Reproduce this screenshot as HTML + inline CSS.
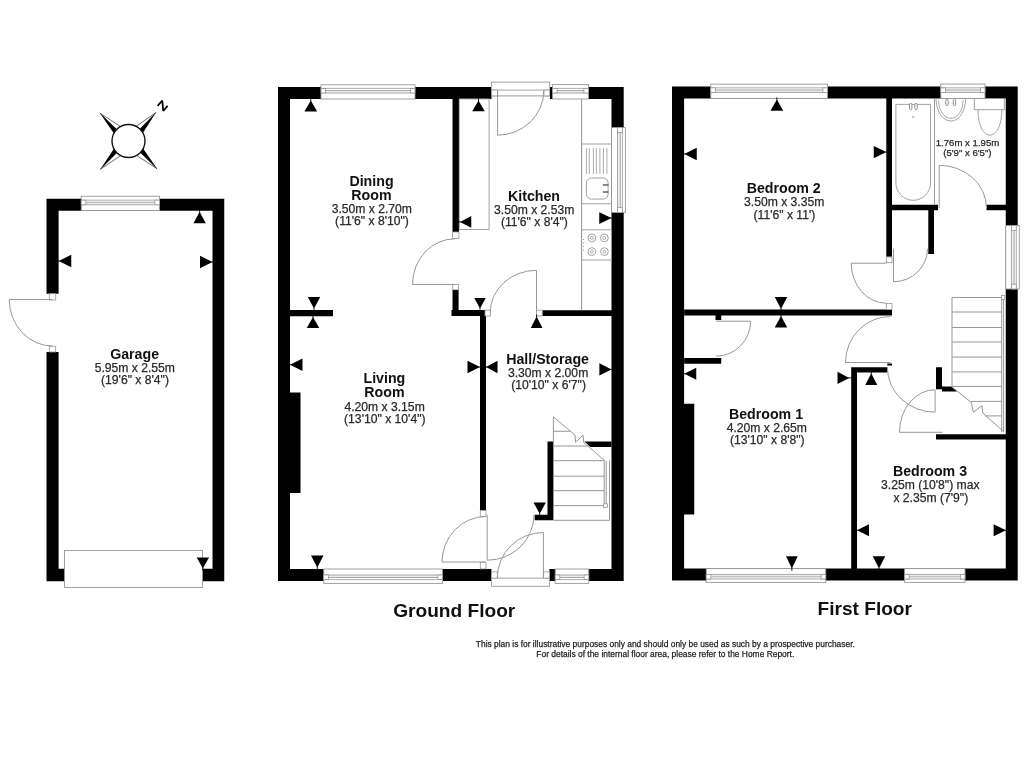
<!DOCTYPE html>
<html><head><meta charset="utf-8"><title>Floor Plan</title>
<style>
html,body{margin:0;padding:0;background:#fff;}
body{width:1024px;height:768px;overflow:hidden;}
svg{display:block;font-family:"Liberation Sans",sans-serif;will-change:transform;}
</style></head><body>
<svg width="1024" height="768" viewBox="0 0 1024 768">
<rect width="1024" height="768" fill="#fff"/>
<path d="M46.50 198.80H224.25V210.70H46.50ZM46.50 198.80H58.60V293.75H46.50ZM46.50 352.00H58.60V581.25H46.50ZM212.50 198.75H224.25V581.25H212.50ZM46.50 568.75H224.25V581.25H46.50ZM278.00 87.00H491.50V99.00H278.00ZM550.00 87.00H623.70V99.00H550.00ZM278.00 87.00H290.00V581.00H278.00ZM611.50 87.00H623.70V581.00H611.50ZM278.00 569.00H491.40V581.00H278.00ZM549.40 569.00H623.70V581.00H549.40ZM286.00 392.50H300.50V493.00H286.00ZM550.00 87.00H552.50V99.00H550.00ZM549.40 569.00H555.20V581.00H549.40ZM452.50 99.00H459.00V232.00H452.50ZM452.50 289.80H458.60V316.00H452.50ZM451.50 310.00H485.00V316.00H451.50ZM542.20 310.20H611.50V316.00H542.20ZM290.00 310.00H333.00V316.20H290.00ZM480.00 310.00H486.00V510.50H480.00ZM547.50 441.50H553.40V520.30H547.50ZM534.70 514.70H553.40V520.30H534.70ZM672.00 86.45H1017.70V98.40H672.00ZM672.00 86.45H684.10V580.40H672.00ZM1005.75 86.45H1017.70V580.40H1005.75ZM672.00 568.60H1017.70V580.40H672.00ZM680.00 403.75H694.25V514.50H680.00ZM886.30 98.50H892.00V256.80H886.30ZM892.00 204.80H938.00V210.20H892.00ZM986.50 204.80H1006.00V210.20H986.50ZM928.30 210.20H934.00V254.00H928.30ZM684.25 309.50H892.00V315.40H684.25ZM684.25 358.00H721.25V363.75H684.25ZM715.50 315.40H721.25V320.00H715.50ZM851.20 367.20H887.30V372.40H851.20ZM851.20 367.20H857.00V580.50H851.20ZM887.30 363.40H892.00V365.50H887.30ZM936.00 367.20H942.00V389.20H936.00ZM936.00 434.30H1006.00V439.60H936.00Z" fill="#000"/>
<polygon points="123.80,128.73 99.80,113.00 119.91,132.62" fill="#fff" stroke="#333" stroke-width="0.7"/>
<polygon points="116.02,136.51 99.80,113.00 119.91,132.62" fill="#000"/>
<polygon points="132.94,128.48 156.00,112.50 136.83,132.36" fill="#fff" stroke="#333" stroke-width="0.7"/>
<polygon points="140.72,136.25 156.00,112.50 136.83,132.36" fill="#000"/>
<polygon points="133.22,153.25 157.10,168.75 137.11,149.36" fill="#fff" stroke="#333" stroke-width="0.7"/>
<polygon points="141.00,145.47 157.10,168.75 137.11,149.36" fill="#000"/>
<polygon points="123.92,153.39 100.30,169.30 120.03,149.50" fill="#fff" stroke="#333" stroke-width="0.7"/>
<polygon points="116.14,145.61 100.30,169.30 120.03,149.50" fill="#000"/>
<circle cx="128.5" cy="141" r="16.5" fill="#fff" stroke="#111" stroke-width="1.4"/>
<polyline points="157.6,105.9 162.3,100.5 163.2,111.0 167.6,105.9" fill="none" stroke="#000" stroke-width="1.75" stroke-linejoin="bevel"/>
<rect x="81.25" y="196.25" width="78.25" height="14.25" fill="#fff" stroke="#979797" stroke-width="0.9"/>
<rect x="81.75" y="202.25" width="77.25" height="2.50" fill="#ececec"/>
<line x1="81.25" y1="200.15" x2="159.50" y2="200.15" stroke="#979797" stroke-width="0.8"/>
<line x1="81.25" y1="202.25" x2="159.50" y2="202.25" stroke="#979797" stroke-width="0.8"/>
<line x1="81.25" y1="204.75" x2="159.50" y2="204.75" stroke="#979797" stroke-width="0.8"/>
<rect x="81.25" y="200.15" width="4.60" height="4.60" fill="#fff" stroke="#979797" stroke-width="0.8"/>
<rect x="154.90" y="200.15" width="4.60" height="4.60" fill="#fff" stroke="#979797" stroke-width="0.8"/>
<rect x="64.50" y="550.50" width="138.00" height="37.00" fill="#fff" stroke="#979797" stroke-width="0.9"/>
<rect x="49.30" y="293.75" width="6.40" height="6.25" fill="#fff" stroke="#979797" stroke-width="0.8"/>
<rect x="49.30" y="346.25" width="6.40" height="5.75" fill="#fff" stroke="#979797" stroke-width="0.8"/>
<line x1="52.50" y1="299.50" x2="9.25" y2="299.50" stroke="#979797" stroke-width="1"/>
<path d="M9.25 299.50A43.25 46.50 0 0 0 52.50 346.00" fill="none" stroke="#979797" stroke-width="1"/>
<polygon points="193.50,223.25 205.75,223.25 199.62,211.75" fill="#000"/>
<line x1="199.62" y1="212.75" x2="199.62" y2="209.55" stroke="#000" stroke-width="0.9"/>
<polygon points="71.25,254.75 71.25,267.25 58.75,261.00" fill="#000"/>
<line x1="59.75" y1="261.00" x2="56.55" y2="261.00" stroke="#000" stroke-width="0.9"/>
<polygon points="200.00,255.75 200.00,268.25 212.50,262.00" fill="#000"/>
<line x1="211.50" y1="262.00" x2="214.70" y2="262.00" stroke="#000" stroke-width="0.9"/>
<polygon points="196.75,557.50 209.00,557.50 202.88,568.50" fill="#000"/>
<line x1="202.88" y1="567.50" x2="202.88" y2="570.70" stroke="#000" stroke-width="0.9"/>
<text x="134.60" y="359.40" font-size="14.2" font-weight="bold" fill="#111" text-anchor="middle">Garage</text>
<text x="134.80" y="372.30" font-size="12.15" stroke="#2a2a2a" stroke-width="0.25" fill="#2a2a2a" text-anchor="middle">5.95m x 2.55m</text>
<text x="135.00" y="384.00" font-size="12.15" stroke="#2a2a2a" stroke-width="0.25" fill="#2a2a2a" text-anchor="middle">(19'6&quot; x 8'4&quot;)</text>
<rect x="321.00" y="84.80" width="94.00" height="14.20" fill="#fff" stroke="#979797" stroke-width="0.9"/>
<rect x="321.50" y="90.50" width="93.00" height="2.50" fill="#ececec"/>
<line x1="321.00" y1="88.40" x2="415.00" y2="88.40" stroke="#979797" stroke-width="0.8"/>
<line x1="321.00" y1="90.50" x2="415.00" y2="90.50" stroke="#979797" stroke-width="0.8"/>
<line x1="321.00" y1="93.00" x2="415.00" y2="93.00" stroke="#979797" stroke-width="0.8"/>
<rect x="321.00" y="88.40" width="4.60" height="4.60" fill="#fff" stroke="#979797" stroke-width="0.8"/>
<rect x="410.40" y="88.40" width="4.60" height="4.60" fill="#fff" stroke="#979797" stroke-width="0.8"/>
<rect x="491.40" y="82.10" width="58.30" height="8.00" fill="#fff" stroke="#979797" stroke-width="0.9"/>
<line x1="491.40" y1="95.90" x2="549.70" y2="95.90" stroke="#979797" stroke-width="1"/>
<rect x="491.70" y="90.10" width="5.90" height="5.80" fill="#fff" stroke="#979797" stroke-width="0.8"/>
<rect x="543.90" y="90.10" width="5.80" height="5.80" fill="#fff" stroke="#979797" stroke-width="0.8"/>
<rect x="552.50" y="84.60" width="36.00" height="14.40" fill="#fff" stroke="#979797" stroke-width="0.9"/>
<rect x="553.00" y="90.50" width="35.00" height="2.50" fill="#ececec"/>
<line x1="552.50" y1="88.40" x2="588.50" y2="88.40" stroke="#979797" stroke-width="0.8"/>
<line x1="552.50" y1="90.50" x2="588.50" y2="90.50" stroke="#979797" stroke-width="0.8"/>
<line x1="552.50" y1="93.00" x2="588.50" y2="93.00" stroke="#979797" stroke-width="0.8"/>
<rect x="552.50" y="88.40" width="4.60" height="4.60" fill="#fff" stroke="#979797" stroke-width="0.8"/>
<rect x="583.90" y="88.40" width="4.60" height="4.60" fill="#fff" stroke="#979797" stroke-width="0.8"/>
<rect x="611.50" y="127.60" width="13.90" height="84.90" fill="#fff" stroke="#979797" stroke-width="0.9"/>
<rect x="617.50" y="128.10" width="2.80" height="83.90" fill="#ececec"/>
<line x1="622.40" y1="127.60" x2="622.40" y2="212.50" stroke="#979797" stroke-width="0.8"/>
<line x1="620.30" y1="127.60" x2="620.30" y2="212.50" stroke="#979797" stroke-width="0.8"/>
<line x1="617.50" y1="127.60" x2="617.50" y2="212.50" stroke="#979797" stroke-width="0.8"/>
<rect x="617.50" y="127.60" width="4.90" height="4.80" fill="#fff" stroke="#979797" stroke-width="0.8"/>
<rect x="617.50" y="207.70" width="4.90" height="4.80" fill="#fff" stroke="#979797" stroke-width="0.8"/>
<rect x="323.75" y="569.00" width="118.75" height="14.40" fill="#fff" stroke="#979797" stroke-width="0.9"/>
<rect x="324.25" y="575.00" width="117.75" height="2.50" fill="#ececec"/>
<line x1="323.75" y1="579.60" x2="442.50" y2="579.60" stroke="#979797" stroke-width="0.8"/>
<line x1="323.75" y1="577.50" x2="442.50" y2="577.50" stroke="#979797" stroke-width="0.8"/>
<line x1="323.75" y1="575.00" x2="442.50" y2="575.00" stroke="#979797" stroke-width="0.8"/>
<rect x="323.75" y="575.00" width="4.60" height="4.60" fill="#fff" stroke="#979797" stroke-width="0.8"/>
<rect x="437.90" y="575.00" width="4.60" height="4.60" fill="#fff" stroke="#979797" stroke-width="0.8"/>
<rect x="491.40" y="578.10" width="58.00" height="8.15" fill="#fff" stroke="#979797" stroke-width="0.9"/>
<rect x="491.40" y="571.90" width="5.90" height="6.20" fill="#fff" stroke="#979797" stroke-width="0.8"/>
<rect x="543.40" y="571.90" width="6.00" height="6.20" fill="#fff" stroke="#979797" stroke-width="0.8"/>
<rect x="555.20" y="569.00" width="33.55" height="14.40" fill="#fff" stroke="#979797" stroke-width="0.9"/>
<rect x="555.70" y="575.00" width="32.55" height="2.50" fill="#ececec"/>
<line x1="555.20" y1="579.60" x2="588.75" y2="579.60" stroke="#979797" stroke-width="0.8"/>
<line x1="555.20" y1="577.50" x2="588.75" y2="577.50" stroke="#979797" stroke-width="0.8"/>
<line x1="555.20" y1="575.00" x2="588.75" y2="575.00" stroke="#979797" stroke-width="0.8"/>
<rect x="555.20" y="575.00" width="4.60" height="4.60" fill="#fff" stroke="#979797" stroke-width="0.8"/>
<rect x="584.15" y="575.00" width="4.60" height="4.60" fill="#fff" stroke="#979797" stroke-width="0.8"/>
<rect x="452.50" y="232.00" width="6.50" height="6.50" fill="#fff" stroke="#979797" stroke-width="0.8"/>
<rect x="452.80" y="284.50" width="5.80" height="5.30" fill="#fff" stroke="#979797" stroke-width="0.8"/>
<rect x="485.00" y="310.20" width="5.50" height="5.80" fill="#fff" stroke="#979797" stroke-width="0.8"/>
<rect x="536.50" y="310.20" width="5.70" height="5.80" fill="#fff" stroke="#979797" stroke-width="0.8"/>
<rect x="480.30" y="510.50" width="5.70" height="5.80" fill="#fff" stroke="#979797" stroke-width="0.8"/>
<line x1="553.40" y1="446.00" x2="604.20" y2="446.00" stroke="#979797" stroke-width="1"/>
<line x1="553.40" y1="460.70" x2="604.20" y2="460.70" stroke="#979797" stroke-width="1"/>
<line x1="553.40" y1="476.20" x2="604.20" y2="476.20" stroke="#979797" stroke-width="1"/>
<line x1="553.40" y1="490.70" x2="604.20" y2="490.70" stroke="#979797" stroke-width="1"/>
<line x1="553.40" y1="505.60" x2="604.20" y2="505.60" stroke="#979797" stroke-width="1"/>
<line x1="553.40" y1="520.30" x2="609.50" y2="520.30" stroke="#979797" stroke-width="1"/>
<line x1="609.50" y1="460.50" x2="609.50" y2="520.30" stroke="#979797" stroke-width="1"/>
<line x1="604.20" y1="460.70" x2="604.20" y2="505.60" stroke="#979797" stroke-width="1"/>
<line x1="606.20" y1="460.70" x2="606.20" y2="505.60" stroke="#979797" stroke-width="1"/>
<rect x="603.60" y="503.80" width="4.00" height="3.80" fill="#fff" stroke="#979797" stroke-width="0.8"/>
<line x1="553.40" y1="416.90" x2="553.40" y2="446.00" stroke="#979797" stroke-width="1"/>
<line x1="553.40" y1="431.25" x2="570.50" y2="431.25" stroke="#979797" stroke-width="1"/>
<polyline points="553.4,416.9 575,435 575.6,442.2 583.1,435.2 583.75,442.5 604.4,460.4" fill="none" stroke="#979797" stroke-width="1"/>
<polygon points="584.40,441.50 611.50,441.50 611.50,446.90 590.50,446.90" fill="#000"/>
<rect x="459.25" y="98.90" width="29.85" height="130.60" fill="none" stroke="#979797" stroke-width="0.9"/>
<line x1="581.60" y1="98.90" x2="581.60" y2="310.20" stroke="#979797" stroke-width="1"/>
<rect x="581.60" y="144.00" width="29.90" height="59.80" fill="none" stroke="#979797" stroke-width="0.9"/>
<line x1="586.40" y1="148.10" x2="586.40" y2="173.90" stroke="#979797" stroke-width="0.8"/>
<line x1="589.30" y1="148.10" x2="589.30" y2="173.90" stroke="#979797" stroke-width="0.8"/>
<line x1="593.40" y1="148.10" x2="593.40" y2="173.90" stroke="#979797" stroke-width="0.8"/>
<line x1="596.40" y1="148.10" x2="596.40" y2="173.90" stroke="#979797" stroke-width="0.8"/>
<line x1="599.90" y1="148.10" x2="599.90" y2="173.90" stroke="#979797" stroke-width="0.8"/>
<line x1="603.40" y1="148.10" x2="603.40" y2="173.90" stroke="#979797" stroke-width="0.8"/>
<line x1="606.90" y1="148.10" x2="606.90" y2="173.90" stroke="#979797" stroke-width="0.8"/>
<rect x="586.4" y="178" width="21.7" height="21.1" rx="5" fill="none" stroke="#979797" stroke-width="0.9"/>
<line x1="602.80" y1="185.00" x2="608.50" y2="185.00" stroke="#555" stroke-width="1.4"/>
<line x1="602.80" y1="192.00" x2="608.50" y2="192.00" stroke="#555" stroke-width="1.4"/>
<rect x="581.60" y="229.80" width="29.90" height="30.20" fill="none" stroke="#979797" stroke-width="0.9"/>
<circle cx="591.9" cy="237.9" r="3.9" fill="none" stroke="#979797" stroke-width="0.9"/>
<circle cx="591.9" cy="237.9" r="1.5" fill="none" stroke="#979797" stroke-width="0.8"/>
<circle cx="604.4" cy="237.9" r="3.9" fill="none" stroke="#979797" stroke-width="0.9"/>
<circle cx="604.4" cy="237.9" r="1.5" fill="none" stroke="#979797" stroke-width="0.8"/>
<circle cx="591.9" cy="251.6" r="3.9" fill="none" stroke="#979797" stroke-width="0.9"/>
<circle cx="591.9" cy="251.6" r="1.5" fill="none" stroke="#979797" stroke-width="0.8"/>
<circle cx="604.4" cy="251.6" r="3.9" fill="none" stroke="#979797" stroke-width="0.9"/>
<circle cx="604.4" cy="251.6" r="1.5" fill="none" stroke="#979797" stroke-width="0.8"/>
<rect x="583.00" y="239.00" width="1.00" height="1.00" fill="#999"/>
<rect x="583.00" y="242.50" width="1.00" height="1.00" fill="#999"/>
<rect x="583.00" y="246.00" width="1.00" height="1.00" fill="#999"/>
<rect x="583.00" y="249.50" width="1.00" height="1.00" fill="#999"/>
<line x1="497.60" y1="90.10" x2="497.60" y2="135.20" stroke="#979797" stroke-width="1"/>
<path d="M497.60 135.20A46.30 45.10 0 0 0 543.90 90.10" fill="none" stroke="#979797" stroke-width="1"/>
<line x1="455.00" y1="284.50" x2="412.50" y2="284.50" stroke="#979797" stroke-width="1"/>
<path d="M412.50 284.50A42.50 45.75 0 0 1 455.00 238.75" fill="none" stroke="#979797" stroke-width="1"/>
<line x1="536.50" y1="312.50" x2="536.50" y2="270.30" stroke="#979797" stroke-width="1"/>
<path d="M536.50 270.30A46.25 42.20 0 0 0 490.25 312.50" fill="none" stroke="#979797" stroke-width="1"/>
<line x1="486.00" y1="562.00" x2="442.00" y2="562.00" stroke="#979797" stroke-width="1"/>
<path d="M442.00 562.00A44.00 45.50 0 0 1 486.00 516.50" fill="none" stroke="#979797" stroke-width="1"/>
<rect x="480.30" y="562.30" width="5.70" height="6.60" fill="#fff" stroke="#979797" stroke-width="0.8"/>
<line x1="487.20" y1="514.80" x2="487.20" y2="560.20" stroke="#979797" stroke-width="1"/>
<path d="M487.20 560.20A46.80 45.40 0 0 0 534.00 514.80" fill="none" stroke="#979797" stroke-width="1"/>
<line x1="543.40" y1="578.00" x2="543.40" y2="532.50" stroke="#979797" stroke-width="1"/>
<path d="M543.40 532.50A46.10 45.50 0 0 0 497.30 578.00" fill="none" stroke="#979797" stroke-width="1"/>
<polygon points="304.45,111.50 317.15,111.50 310.80,100.60" fill="#000"/>
<line x1="310.80" y1="101.60" x2="310.80" y2="98.40" stroke="#000" stroke-width="0.9"/>
<polygon points="472.25,111.25 484.75,111.25 478.50,100.50" fill="#000"/>
<line x1="478.50" y1="101.50" x2="478.50" y2="98.30" stroke="#000" stroke-width="0.9"/>
<polygon points="471.25,216.00 471.25,227.75 460.00,221.88" fill="#000"/>
<line x1="461.00" y1="221.88" x2="457.80" y2="221.88" stroke="#000" stroke-width="0.9"/>
<polygon points="599.25,212.25 599.25,224.00 611.50,218.12" fill="#000"/>
<line x1="610.50" y1="218.12" x2="613.70" y2="218.12" stroke="#000" stroke-width="0.9"/>
<polygon points="307.75,297.00 320.25,297.00 314.00,308.50" fill="#000"/>
<line x1="314.00" y1="307.50" x2="314.00" y2="310.70" stroke="#000" stroke-width="0.9"/>
<polygon points="306.75,328.00 319.25,328.00 313.00,317.00" fill="#000"/>
<line x1="313.00" y1="318.00" x2="313.00" y2="314.80" stroke="#000" stroke-width="0.9"/>
<polygon points="474.25,298.00 485.75,298.00 480.00,308.50" fill="#000"/>
<line x1="480.00" y1="307.50" x2="480.00" y2="310.70" stroke="#000" stroke-width="0.9"/>
<polygon points="530.75,327.90 542.45,327.90 536.60,316.60" fill="#000"/>
<line x1="536.60" y1="317.60" x2="536.60" y2="314.40" stroke="#000" stroke-width="0.9"/>
<polygon points="302.50,358.50 302.50,371.00 290.00,364.75" fill="#000"/>
<line x1="291.00" y1="364.75" x2="287.80" y2="364.75" stroke="#000" stroke-width="0.9"/>
<polygon points="467.50,360.75 467.50,373.25 480.00,367.00" fill="#000"/>
<line x1="479.00" y1="367.00" x2="482.20" y2="367.00" stroke="#000" stroke-width="0.9"/>
<polygon points="497.50,360.75 497.50,373.25 486.00,367.00" fill="#000"/>
<line x1="487.00" y1="367.00" x2="483.80" y2="367.00" stroke="#000" stroke-width="0.9"/>
<polygon points="599.40,363.25 599.40,375.55 611.50,369.40" fill="#000"/>
<line x1="610.50" y1="369.40" x2="613.70" y2="369.40" stroke="#000" stroke-width="0.9"/>
<polygon points="533.50,502.50 545.85,502.50 539.67,513.75" fill="#000"/>
<line x1="539.67" y1="512.75" x2="539.67" y2="515.95" stroke="#000" stroke-width="0.9"/>
<polygon points="311.00,555.50 323.50,555.50 317.25,567.50" fill="#000"/>
<line x1="317.25" y1="566.50" x2="317.25" y2="569.70" stroke="#000" stroke-width="0.9"/>
<text x="371.50" y="186.00" font-size="14.2" font-weight="bold" fill="#111" text-anchor="middle">Dining</text>
<text x="371.40" y="200.20" font-size="14.2" font-weight="bold" fill="#111" text-anchor="middle">Room</text>
<text x="371.80" y="213.35" font-size="12.15" stroke="#2a2a2a" stroke-width="0.25" fill="#2a2a2a" text-anchor="middle">3.50m x 2.70m</text>
<text x="372.00" y="225.10" font-size="12.15" stroke="#2a2a2a" stroke-width="0.25" fill="#2a2a2a" text-anchor="middle">(11'6&quot; x 8'10&quot;)</text>
<text x="534.00" y="201.30" font-size="14.2" font-weight="bold" fill="#111" text-anchor="middle">Kitchen</text>
<text x="534.20" y="214.10" font-size="12.15" stroke="#2a2a2a" stroke-width="0.25" fill="#2a2a2a" text-anchor="middle">3.50m x 2.53m</text>
<text x="534.40" y="226.40" font-size="12.15" stroke="#2a2a2a" stroke-width="0.25" fill="#2a2a2a" text-anchor="middle">(11'6&quot; x 8'4&quot;)</text>
<text x="384.40" y="382.80" font-size="14.2" font-weight="bold" fill="#111" text-anchor="middle">Living</text>
<text x="384.40" y="397.30" font-size="14.2" font-weight="bold" fill="#111" text-anchor="middle">Room</text>
<text x="384.60" y="410.90" font-size="12.15" stroke="#2a2a2a" stroke-width="0.25" fill="#2a2a2a" text-anchor="middle">4.20m x 3.15m</text>
<text x="384.80" y="422.90" font-size="12.15" stroke="#2a2a2a" stroke-width="0.25" fill="#2a2a2a" text-anchor="middle">(13'10&quot; x 10'4&quot;)</text>
<text x="547.60" y="364.10" font-size="14.2" font-weight="bold" fill="#111" text-anchor="middle">Hall/Storage</text>
<text x="548.10" y="377.00" font-size="12.15" stroke="#2a2a2a" stroke-width="0.25" fill="#2a2a2a" text-anchor="middle">3.30m x 2.00m</text>
<text x="548.60" y="388.70" font-size="12.15" stroke="#2a2a2a" stroke-width="0.25" fill="#2a2a2a" text-anchor="middle">(10'10&quot; x 6'7&quot;)</text>
<text x="454.25" y="616.70" font-size="19.1" font-weight="bold" fill="#111" text-anchor="middle">Ground Floor</text>
<rect x="710.75" y="84.15" width="116.75" height="14.25" fill="#fff" stroke="#979797" stroke-width="0.9"/>
<rect x="711.25" y="89.95" width="115.75" height="2.50" fill="#ececec"/>
<line x1="710.75" y1="87.85" x2="827.50" y2="87.85" stroke="#979797" stroke-width="0.8"/>
<line x1="710.75" y1="89.95" x2="827.50" y2="89.95" stroke="#979797" stroke-width="0.8"/>
<line x1="710.75" y1="92.45" x2="827.50" y2="92.45" stroke="#979797" stroke-width="0.8"/>
<rect x="710.75" y="87.85" width="4.60" height="4.60" fill="#fff" stroke="#979797" stroke-width="0.8"/>
<rect x="822.90" y="87.85" width="4.60" height="4.60" fill="#fff" stroke="#979797" stroke-width="0.8"/>
<rect x="940.80" y="84.05" width="44.20" height="14.35" fill="#fff" stroke="#979797" stroke-width="0.9"/>
<rect x="941.30" y="89.95" width="43.20" height="2.50" fill="#ececec"/>
<line x1="940.80" y1="87.85" x2="985.00" y2="87.85" stroke="#979797" stroke-width="0.8"/>
<line x1="940.80" y1="89.95" x2="985.00" y2="89.95" stroke="#979797" stroke-width="0.8"/>
<line x1="940.80" y1="92.45" x2="985.00" y2="92.45" stroke="#979797" stroke-width="0.8"/>
<rect x="940.80" y="87.85" width="4.60" height="4.60" fill="#fff" stroke="#979797" stroke-width="0.8"/>
<rect x="980.40" y="87.85" width="4.60" height="4.60" fill="#fff" stroke="#979797" stroke-width="0.8"/>
<rect x="1005.75" y="225.50" width="13.55" height="63.50" fill="#fff" stroke="#979797" stroke-width="0.9"/>
<rect x="1011.40" y="226.00" width="2.80" height="62.50" fill="#ececec"/>
<line x1="1016.30" y1="225.50" x2="1016.30" y2="289.00" stroke="#979797" stroke-width="0.8"/>
<line x1="1014.20" y1="225.50" x2="1014.20" y2="289.00" stroke="#979797" stroke-width="0.8"/>
<line x1="1011.40" y1="225.50" x2="1011.40" y2="289.00" stroke="#979797" stroke-width="0.8"/>
<rect x="1011.40" y="225.50" width="4.90" height="4.80" fill="#fff" stroke="#979797" stroke-width="0.8"/>
<rect x="1011.40" y="284.20" width="4.90" height="4.80" fill="#fff" stroke="#979797" stroke-width="0.8"/>
<rect x="706.25" y="568.60" width="119.50" height="13.80" fill="#fff" stroke="#979797" stroke-width="0.9"/>
<rect x="706.75" y="574.40" width="118.50" height="2.50" fill="#ececec"/>
<line x1="706.25" y1="579.00" x2="825.75" y2="579.00" stroke="#979797" stroke-width="0.8"/>
<line x1="706.25" y1="576.90" x2="825.75" y2="576.90" stroke="#979797" stroke-width="0.8"/>
<line x1="706.25" y1="574.40" x2="825.75" y2="574.40" stroke="#979797" stroke-width="0.8"/>
<rect x="706.25" y="574.40" width="4.60" height="4.60" fill="#fff" stroke="#979797" stroke-width="0.8"/>
<rect x="821.15" y="574.40" width="4.60" height="4.60" fill="#fff" stroke="#979797" stroke-width="0.8"/>
<rect x="904.60" y="568.60" width="60.40" height="13.80" fill="#fff" stroke="#979797" stroke-width="0.9"/>
<rect x="905.10" y="574.40" width="59.40" height="2.50" fill="#ececec"/>
<line x1="904.60" y1="579.00" x2="965.00" y2="579.00" stroke="#979797" stroke-width="0.8"/>
<line x1="904.60" y1="576.90" x2="965.00" y2="576.90" stroke="#979797" stroke-width="0.8"/>
<line x1="904.60" y1="574.40" x2="965.00" y2="574.40" stroke="#979797" stroke-width="0.8"/>
<rect x="904.60" y="574.40" width="4.60" height="4.60" fill="#fff" stroke="#979797" stroke-width="0.8"/>
<rect x="960.40" y="574.40" width="4.60" height="4.60" fill="#fff" stroke="#979797" stroke-width="0.8"/>
<rect x="886.30" y="257.00" width="5.70" height="5.70" fill="#fff" stroke="#979797" stroke-width="0.8"/>
<rect x="886.30" y="303.50" width="5.70" height="6.00" fill="#fff" stroke="#979797" stroke-width="0.8"/>
<polygon points="942.00,386.40 951.40,386.40 957.00,391.60 942.00,391.60" fill="#000"/>
<line x1="934.50" y1="98.50" x2="934.50" y2="204.80" stroke="#979797" stroke-width="1"/>
<path d="M895.9 104.4 H930.5 V183 A17.3 17.3 0 0 1 895.9 183 Z" fill="none" stroke="#979797" stroke-width="0.9"/>
<rect x="909.5" y="103.5" width="2.4" height="6" rx="1" fill="#fff" stroke="#666" stroke-width="0.7"/>
<rect x="914.8" y="103.5" width="2.4" height="6" rx="1" fill="#fff" stroke="#666" stroke-width="0.7"/>
<circle cx="913.2" cy="117" r="0.9" fill="none" stroke="#979797" stroke-width="0.6"/>
<path d="M936 98.5 A14.85 22.6 0 0 0 965.7 98.5" fill="none" stroke="#979797" stroke-width="0.9"/>
<path d="M938.5 100 A12.3 18.5 0 0 0 963.2 100" fill="none" stroke="#979797" stroke-width="0.8"/>
<rect x="945.8" y="99.5" width="2.4" height="6" rx="1" fill="#fff" stroke="#666" stroke-width="0.7"/>
<rect x="953.3" y="99.5" width="2.4" height="6" rx="1" fill="#fff" stroke="#666" stroke-width="0.7"/>
<rect x="974.30" y="98.50" width="30.00" height="11.20" fill="none" stroke="#979797" stroke-width="0.9"/>
<path d="M978 109.7 C978 143.6 1001.8 143.6 1001.8 109.7" fill="none" stroke="#979797" stroke-width="0.9"/>
<line x1="952.00" y1="297.50" x2="1002.00" y2="297.50" stroke="#979797" stroke-width="1"/>
<line x1="952.00" y1="312.00" x2="1002.00" y2="312.00" stroke="#979797" stroke-width="1"/>
<line x1="952.00" y1="327.50" x2="1002.00" y2="327.50" stroke="#979797" stroke-width="1"/>
<line x1="952.00" y1="342.00" x2="1002.00" y2="342.00" stroke="#979797" stroke-width="1"/>
<line x1="952.00" y1="357.10" x2="1002.00" y2="357.10" stroke="#979797" stroke-width="1"/>
<line x1="952.00" y1="371.90" x2="1002.00" y2="371.90" stroke="#979797" stroke-width="1"/>
<line x1="952.00" y1="386.40" x2="1002.00" y2="386.40" stroke="#979797" stroke-width="1"/>
<line x1="970.70" y1="401.40" x2="1002.00" y2="401.40" stroke="#979797" stroke-width="1"/>
<line x1="985.20" y1="415.90" x2="1002.00" y2="415.90" stroke="#979797" stroke-width="1"/>
<line x1="952.00" y1="297.50" x2="952.00" y2="386.40" stroke="#979797" stroke-width="1"/>
<line x1="1001.70" y1="297.50" x2="1001.70" y2="432.00" stroke="#979797" stroke-width="1"/>
<line x1="1003.60" y1="297.50" x2="1003.60" y2="432.00" stroke="#979797" stroke-width="1"/>
<rect x="1001.50" y="295.60" width="3.30" height="3.80" fill="#fff" stroke="#979797" stroke-width="0.8"/>
<polyline points="951.4,386.4 971.1,402.3 973.5,412.2 981.9,405.6 982.8,413.1 1003,431" fill="none" stroke="#979797" stroke-width="1"/>
<line x1="886.40" y1="263.20" x2="851.20" y2="263.20" stroke="#979797" stroke-width="1"/>
<path d="M851.20 263.20A35.20 40.00 0 0 0 886.40 303.20" fill="none" stroke="#979797" stroke-width="1"/>
<line x1="893.50" y1="248.75" x2="893.50" y2="281.75" stroke="#979797" stroke-width="1"/>
<path d="M893.50 281.75A34.00 33.00 0 0 0 927.50 248.75" fill="none" stroke="#979797" stroke-width="1"/>
<line x1="939.20" y1="208.00" x2="939.20" y2="165.30" stroke="#979797" stroke-width="1"/>
<path d="M939.20 165.30A47.30 42.70 0 0 1 986.50 208.00" fill="none" stroke="#979797" stroke-width="1"/>
<line x1="890.50" y1="362.50" x2="845.50" y2="362.50" stroke="#979797" stroke-width="1"/>
<path d="M845.50 362.50A45.00 46.00 0 0 1 890.50 316.50" fill="none" stroke="#979797" stroke-width="1"/>
<line x1="716.00" y1="321.20" x2="750.60" y2="321.20" stroke="#979797" stroke-width="1"/>
<path d="M750.60 321.20A34.60 35.00 0 0 1 716.00 356.20" fill="none" stroke="#979797" stroke-width="1"/>
<path d="M887.30 367.20A47.80 45.00 0 0 0 935.10 412.20" fill="none" stroke="#979797" stroke-width="1"/>
<line x1="935.10" y1="389.70" x2="935.10" y2="412.20" stroke="#979797" stroke-width="1"/>
<path d="M935.10 389.70A35.60 42.60 0 0 0 899.50 432.30" fill="none" stroke="#979797" stroke-width="1"/>
<line x1="899.50" y1="432.30" x2="942.60" y2="432.30" stroke="#979797" stroke-width="1"/>
<polygon points="770.50,110.75 783.25,110.75 776.88,99.50" fill="#000"/>
<line x1="776.88" y1="100.50" x2="776.88" y2="97.30" stroke="#000" stroke-width="0.9"/>
<polygon points="696.75,147.75 696.75,160.25 684.25,154.00" fill="#000"/>
<line x1="685.25" y1="154.00" x2="682.05" y2="154.00" stroke="#000" stroke-width="0.9"/>
<polygon points="873.75,146.00 873.75,158.25 886.30,152.12" fill="#000"/>
<line x1="885.30" y1="152.12" x2="888.50" y2="152.12" stroke="#000" stroke-width="0.9"/>
<polygon points="774.75,297.00 787.25,297.00 781.00,309.00" fill="#000"/>
<line x1="781.00" y1="308.00" x2="781.00" y2="311.20" stroke="#000" stroke-width="0.9"/>
<polygon points="774.75,327.50 787.25,327.50 781.00,316.00" fill="#000"/>
<line x1="781.00" y1="317.00" x2="781.00" y2="313.80" stroke="#000" stroke-width="0.9"/>
<polygon points="696.25,367.75 696.25,379.75 684.25,373.75" fill="#000"/>
<line x1="685.25" y1="373.75" x2="682.05" y2="373.75" stroke="#000" stroke-width="0.9"/>
<polygon points="837.50,371.75 837.50,384.00 849.25,377.88" fill="#000"/>
<line x1="848.25" y1="377.88" x2="851.45" y2="377.88" stroke="#000" stroke-width="0.9"/>
<polygon points="865.25,385.00 877.25,385.00 871.25,373.25" fill="#000"/>
<line x1="871.25" y1="374.25" x2="871.25" y2="371.05" stroke="#000" stroke-width="0.9"/>
<polygon points="786.00,556.25 797.75,556.25 791.88,568.60" fill="#000"/>
<line x1="791.88" y1="567.60" x2="791.88" y2="570.80" stroke="#000" stroke-width="0.9"/>
<polygon points="872.75,556.25 885.25,556.25 879.00,568.60" fill="#000"/>
<line x1="879.00" y1="567.60" x2="879.00" y2="570.80" stroke="#000" stroke-width="0.9"/>
<polygon points="869.00,524.25 869.00,536.25 857.00,530.25" fill="#000"/>
<line x1="858.00" y1="530.25" x2="854.80" y2="530.25" stroke="#000" stroke-width="0.9"/>
<polygon points="993.60,524.25 993.60,536.25 1006.00,530.25" fill="#000"/>
<line x1="1005.00" y1="530.25" x2="1008.20" y2="530.25" stroke="#000" stroke-width="0.9"/>
<text x="783.70" y="193.30" font-size="14.2" font-weight="bold" fill="#111" text-anchor="middle">Bedroom 2</text>
<text x="784.20" y="206.40" font-size="12.15" stroke="#2a2a2a" stroke-width="0.25" fill="#2a2a2a" text-anchor="middle">3.50m x 3.35m</text>
<text x="784.40" y="218.50" font-size="12.15" stroke="#2a2a2a" stroke-width="0.25" fill="#2a2a2a" text-anchor="middle">(11'6&quot; x 11')</text>
<text x="967.50" y="146.00" font-size="9.6" stroke="#2a2a2a" stroke-width="0.25" fill="#2a2a2a" text-anchor="middle">1.76m x 1.95m</text>
<text x="967.40" y="155.60" font-size="9.6" stroke="#2a2a2a" stroke-width="0.25" fill="#2a2a2a" text-anchor="middle">(5'9&quot; x 6'5&quot;)</text>
<text x="766.00" y="419.40" font-size="14.2" font-weight="bold" fill="#111" text-anchor="middle">Bedroom 1</text>
<text x="766.80" y="431.90" font-size="12.15" stroke="#2a2a2a" stroke-width="0.25" fill="#2a2a2a" text-anchor="middle">4.20m x 2.65m</text>
<text x="767.25" y="443.90" font-size="12.15" stroke="#2a2a2a" stroke-width="0.25" fill="#2a2a2a" text-anchor="middle">(13'10&quot; x 8'8&quot;)</text>
<text x="930.00" y="476.10" font-size="14.2" font-weight="bold" fill="#111" text-anchor="middle">Bedroom 3</text>
<text x="930.30" y="489.00" font-size="12.15" stroke="#2a2a2a" stroke-width="0.25" fill="#2a2a2a" text-anchor="middle">3.25m (10'8&quot;) max</text>
<text x="930.80" y="501.90" font-size="12.15" stroke="#2a2a2a" stroke-width="0.25" fill="#2a2a2a" text-anchor="middle">x 2.35m (7'9&quot;)</text>
<text x="864.75" y="615.00" font-size="19.1" font-weight="bold" fill="#111" text-anchor="middle">First Floor</text>
<text x="665.35" y="646.70" font-size="9.3" textLength="379" lengthAdjust="spacingAndGlyphs" stroke="#222" stroke-width="0.25" fill="#222" text-anchor="middle">This plan is for illustrative purposes only and should only be used as such by a prospective purchaser.</text>
<text x="665.30" y="656.50" font-size="9.3" textLength="258" lengthAdjust="spacingAndGlyphs" stroke="#222" stroke-width="0.25" fill="#222" text-anchor="middle">For details of the internal floor area, please refer to the Home Report.</text>
</svg>
</body></html>
